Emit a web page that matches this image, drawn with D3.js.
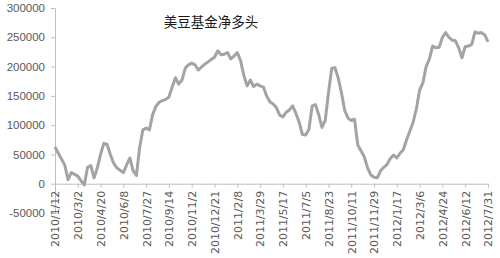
<!DOCTYPE html>
<html>
<head>
<meta charset="utf-8">
<script src="https://cdn.jsdelivr.net/npm/d3@7"></script>
<style>
  body { margin: 0; background: #fff; }
  svg { display: block; font-family: "Liberation Sans", Arial, sans-serif; }
  .axis text { fill: #595959; font-size: 11.5px; }
  .x-axis text { font-family: "DejaVu Sans", sans-serif; font-size: 11px; }
  .axis path, .axis line { stroke: #bfbfbf; }
</style>
</head>
<body>
<div id="content"></div>
<script>
const TITLE = '美豆基金净多头';
const TICK_LABELS = ['2010/1/12', '2010/3/2', '2010/4/20', '2010/6/8', '2010/7/27', '2010/9/14',
    '2010/11/2', '2010/12/21', '2011/2/8', '2011/3/29', '2011/5/17', '2011/7/5', '2011/8/23',
    '2011/10/11', '2011/11/29', '2012/1/17', '2012/3/6', '2012/4/24', '2012/6/12', '2012/7/31'];
const Y_TICKS = [-50000, 0, 50000, 100000, 150000, 200000, 250000, 300000];
// weekly net long positions, one per week starting 2010/1/12
const VALUES = [
    63000, 52000, 42000, 32000, 7000, 19000, 16000, 13000, 5000, -2000,
    28000, 31000, 10000, 27000, 50000, 69000, 67000, 50000, 35000, 27000,
    23000, 19000, 32000, 44000, 22000, 14000, 62000, 92000, 95000, 92000,
    118000, 132000, 139000, 142000, 144000, 148000, 165000, 181000, 170000, 177000,
    197000, 203000, 206000, 203000, 194000, 199000, 204000, 208000, 212000, 216000,
    227000, 220000, 221000, 224000, 213000, 218000, 224000, 210000, 185000, 167000,
    177000, 166000, 170000, 167000, 165000, 150000, 140000, 136000, 130000, 117000,
    114000, 122000, 126000, 133000, 120000, 105000, 84000, 83000, 93000, 133000,
    135000, 118000, 96000, 108000, 155000, 197000, 198000, 180000, 155000, 125000,
    112000, 108000, 110000, 66000, 56000, 46000, 27000, 15000, 11000, 10000,
    22000, 28000, 33000, 43000, 49000, 44000, 52000, 58000, 75000, 90000,
    105000, 128000, 160000, 172000, 200000, 213000, 235000, 232000, 233000, 250000,
    258000, 250000, 245000, 244000, 232000, 215000, 234000, 235000, 238000, 259000,
    257000, 258000, 254000, 242000
];

var width = 500, height = 258;
var margin = {left: 55, right: 12, top: 8, bottom: 45};

var parse = d3.timeParse('%Y/%m/%d');
var tickDates = TICK_LABELS.map(parse);
var start = tickDates[0];
var points = VALUES.map((v, i) => ({date: d3.timeDay.offset(start, i * 7), value: v}));

var svg = d3.select('#content')
    .append('svg')
    .attr('width', width)
    .attr('height', height);

var xScale = d3.scaleTime()
    .domain([tickDates[0], tickDates[tickDates.length - 1]])
    .range([margin.left, width - margin.right]);

var yScale = d3.scaleLinear()
    .domain([-50000, 300000])
    .range([height - margin.bottom, margin.top]);

// y axis, plain hyphen for negatives like the original
var yAxis = d3.axisLeft(yScale)
    .tickValues(Y_TICKS)
    .tickFormat(d => String(d))
    .tickSizeInner(4)
    .tickSizeOuter(0)
    .tickPadding(6);

svg.append('g')
    .attr('class', 'axis y-axis')
    .attr('transform', `translate(${margin.left},0)`)
    .call(yAxis);

// x axis crosses at zero
var xAxis = d3.axisBottom(xScale)
    .tickValues(tickDates)
    .tickFormat((d, i) => TICK_LABELS[i])
    .tickSizeInner(4)
    .tickSizeOuter(0);

var gx = svg.append('g')
    .attr('class', 'axis x-axis')
    .attr('transform', `translate(0,${yScale(0)})`)
    .call(xAxis);

gx.selectAll('text')
    .attr('transform', 'rotate(-90)')
    .attr('text-anchor', 'end')
    .attr('x', -7)
    .attr('y', 0)
    .attr('dy', '0.35em');

var line = d3.line()
    .x(d => xScale(d.date))
    .y(d => yScale(d.value));

svg.append('path')
    .datum(points)
    .attr('fill', 'none')
    .attr('stroke', '#a3a3a3')
    .attr('stroke-width', 3)
    .attr('stroke-linejoin', 'round')
    .attr('d', line);

svg.append('text')
    .attr('x', 211)
    .attr('y', 27)
    .attr('text-anchor', 'middle')
    .style('font-family', '"Noto Sans CJK SC", sans-serif')
    .style('font-size', '13.5px')
    .style('fill', '#1a1a1a')
    .text(TITLE);
</script>
</body>
</html>
